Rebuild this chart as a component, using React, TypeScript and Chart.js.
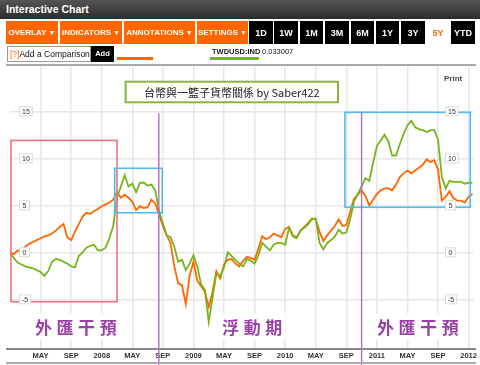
import React, { useEffect, useRef } from 'react';
import { Chart, registerables } from 'chart.js';

Chart.register(...registerables);

// ---- data (percent change since Jan 2007, sampled every half month) ----
const SAMPLE_STEP_MONTHS = 0.5;

const orangeValues = [
  0.0, -0.2, 0.2, 0.0, 0.6, 0.9, 1.1, 1.3, 1.5, 1.7,
  1.8, 2.0, 2.3, 2.7, 3.0, 1.6, 1.3, 2.2, 3.0, 3.8,
  4.2, 4.1, 4.4, 4.6, 4.9, 5.1, 5.3, 5.6, 6.4, 5.8,
  6.1, 5.8, 5.4, 4.5, 4.9, 4.7, 4.8, 5.6, 5.2, 4.0,
  2.8, 1.8, 1.0, -1.5, -3.3, -3.5, -5.5, -2.5, -1.0, -3.0,
  -3.6, -4.2, -5.8, -4.2, -2.0, -2.8, -1.3, -0.8, -0.7, -1.2,
  -1.5, -0.9, -0.5, -0.6, -0.8, 0.4, 1.7, 1.4, 1.6, 2.0,
  1.8, 1.6, 2.5, 2.7, 1.8, 1.6, 2.3, 2.7, 3.1, 3.6,
  3.5, 2.2, 1.2, 1.8, 2.3, 2.8, 3.5, 2.8, 2.9, 4.3,
  5.7, 6.1, 6.6, 6.0, 5.0, 5.6, 6.2, 6.6, 6.8, 6.8,
  6.6, 7.2, 8.0, 8.4, 8.7, 8.4, 8.7, 9.0, 9.3, 9.9,
  9.6, 9.8, 8.8, 5.5, 5.9, 6.5, 5.8, 5.5, 5.5, 5.3,
  5.9, 6.2,
];

const greenValues = [
  0.0, -0.6, -1.1, -1.3, -1.5, -1.6, -1.7, -1.9, -2.1, -2.5,
  -2.0, -1.0, -0.7, -0.8, -1.0, -1.2, -1.5, -1.6, -0.4, 0.0,
  0.5, 0.7, 0.8, 0.2, 0.2, 0.5, 1.5, 2.8, 5.8, 7.0,
  8.2, 7.0, 7.3, 6.4, 7.4, 7.4, 7.1, 7.2, 6.6, 4.4,
  3.1, 1.8, 1.6, 0.6, -1.0, -0.8, -1.9, -1.2, -0.3, -1.5,
  -3.4, -4.0, -7.4, -4.8, -2.3, -2.5, -1.6, 0.0, -0.4, -0.8,
  -1.2, -1.5, -0.7, -0.9, -1.2, -0.3, 1.0, 0.6, 0.2, 0.8,
  1.0, 1.0, 0.8, 2.6, 1.7, 1.5, 2.3, 2.6, 3.0, 3.5,
  3.6, 1.0, 0.3, 1.0, 1.3, 1.7, 2.4, 2.0, 2.1, 3.5,
  5.4, 6.2, 7.0, 7.9, 7.6, 9.5, 11.3, 11.9, 12.5, 11.8,
  10.3, 10.3, 11.5, 12.6, 13.5, 14.0, 13.3, 13.1, 13.0, 12.8,
  13.0, 13.0, 12.0, 8.0, 6.8, 7.6, 7.5, 7.5, 7.5, 7.3,
  7.4, 7.4,
];

const xTickMonths = [4, 8, 12, 16, 20, 24, 28, 32, 36, 40, 44, 48, 52, 56, 60];
const xTickLabels = ['MAY', 'SEP', '2008', 'MAY', 'SEP', '2009', 'MAY', 'SEP', '2010', 'MAY', 'SEP', '2011', 'MAY', 'SEP', '2012'];
const yTickValues = [15, 10, 5, 0, -5];
const yTickLabels = ['15', '10', '5', '0', '-5'];

const periodLabels = ['外匯干預', '浮動期', '外匯干預'];
const periodLabelStartMonths = [3.26, 27.74, 48.0];
const chartTitle = '台幣與一籃子貨幣關係 by Saber422';

// annotation geometry in data units (months, percent)
const annotationBoxes = [
  { x0: 0.13, x1: 14.0, y0: 11.9, y1: -5.26, color: '#f0737c' },
  { x0: 13.7, x1: 19.92, y0: 8.94, y1: 4.21, color: '#4fbdec' },
  { x0: 43.82, x1: 60.22, y0: 14.89, y1: 4.79, color: '#4fbdec' },
];
const annotationLines = [
  { x: 19.47, y: 14.8 },
  { x: 46.0, y: 14.9 },
];
const titleBox = { x0: 15.13, x1: 42.91, y0: 18.15, y1: 15.96 };

const ORANGE = '#ff6600';
const GREEN = '#76b51a';

const decorPlugin = {
  id: 'decor',
  afterDatasetsDraw(chart: any) {
    const ctx = chart.ctx as CanvasRenderingContext2D;
    const xs = chart.scales.x;
    const ys = chart.scales.y;
    const X = (v: number) => xs.getPixelForValue(v);
    const Y = (v: number) => ys.getPixelForValue(v);
    ctx.save();

    annotationBoxes.forEach((b) => {
      ctx.strokeStyle = b.color;
      ctx.lineWidth = 1.6;
      ctx.strokeRect(X(b.x0), Y(b.y0), X(b.x1) - X(b.x0), Y(b.y1) - Y(b.y0));
    });
    annotationLines.forEach((l) => {
      ctx.strokeStyle = '#b46cc4';
      ctx.lineWidth = 1.4;
      ctx.beginPath();
      ctx.moveTo(X(l.x), Y(l.y));
      ctx.lineTo(X(l.x), chart.height);
      ctx.stroke();
    });

    ctx.font = 'bold 17px "Noto Sans CJK TC", "Noto Sans CJK SC", sans-serif';
    ctx.textBaseline = 'middle';
    ctx.textAlign = 'left';
    const step = 21.6;
    const labelY = Y(-7.9);
    periodLabels.forEach((t, i) => {
      const x0 = X(periodLabelStartMonths[i]);
      const chars = Array.from(t);
      const w = (chars.length - 1) * step + 17;
      ctx.fillStyle = '#ffffff';
      ctx.fillRect(x0 - 3, labelY - 13, w + 6, 26);
      ctx.fillStyle = '#9a40a8';
      chars.forEach((c, k) => ctx.fillText(c, x0 + k * step, labelY + 1));
    });

    const tx0 = X(titleBox.x0), tx1 = X(titleBox.x1), ty0 = Y(titleBox.y0), ty1 = Y(titleBox.y1);
    ctx.fillStyle = '#ffffff';
    ctx.fillRect(tx0, ty0, tx1 - tx0, ty1 - ty0);
    ctx.strokeStyle = '#8db33e';
    ctx.lineWidth = 2;
    ctx.strokeRect(tx0, ty0, tx1 - tx0, ty1 - ty0);
    ctx.fillStyle = '#222';
    ctx.font = '11px "Noto Sans CJK TC", sans-serif';
    ctx.textAlign = 'center';
    ctx.fillText(chartTitle, (tx0 + tx1) / 2, (ty0 + ty1) / 2 + 1);

    ctx.font = '7px Arial, "Liberation Sans", sans-serif';
    ctx.textAlign = 'center';
    yTickValues.forEach((v, i) => {
      const y = Y(v);
      const label = yTickLabels[i];
      const w = Math.max(10, ctx.measureText(label).width + 5);
      [19, 445].forEach((lx) => {
        ctx.fillStyle = '#ffffff';
        ctx.fillRect(lx, y - 4.5, w, 9);
        ctx.strokeStyle = '#dcdcdc';
        ctx.lineWidth = 1;
        ctx.strokeRect(lx + 0.5, y - 4.5, w, 9);
        ctx.fillStyle = '#333';
        ctx.fillText(label, lx + w / 2 + 0.5, y + 0.5);
      });
    });

    ctx.font = 'bold 8px Arial, "Liberation Sans", sans-serif';
    ctx.fillStyle = '#444';
    ctx.textAlign = 'left';
    ctx.fillText('Print', 444, 79);

    ctx.fillStyle = '#a9a9a9';
    ctx.fillRect(6, 64, 470, 2);
    ctx.fillStyle = '#888';
    ctx.fillRect(6, 348, 470, 2);
    ctx.fillStyle = '#aaa';
    ctx.fillRect(6, 362, 470, 2);
    ctx.restore();
  },
};

const orangeBtns = [
  { label: 'OVERLAY', l: 6, r: 58 },
  { label: 'INDICATORS', l: 60, r: 122 },
  { label: 'ANNOTATIONS', l: 124, r: 195 },
  { label: 'SETTINGS', l: 197, r: 248 },
];
const rangeBtns = [
  { label: '1D', l: 249, r: 273 },
  { label: '1W', l: 274, r: 298 },
  { label: '1M', l: 300, r: 323 },
  { label: '3M', l: 325, r: 349 },
  { label: '6M', l: 351, r: 374 },
  { label: '1Y', l: 376, r: 399 },
  { label: '3Y', l: 401, r: 425 },
  { label: 'YTD', l: 451, r: 475 },
];

export default function App() {
  const ref = useRef<HTMLCanvasElement>(null);
  useEffect(() => {
    const toPoints = (vals: number[]) => vals.map((v, i) => ({ x: i * SAMPLE_STEP_MONTHS, y: v }));
    const chart = new Chart(ref.current as HTMLCanvasElement, {
      type: 'line',
      data: {
        datasets: [
          { label: 'Basket', data: toPoints(orangeValues), borderColor: ORANGE, borderWidth: 1.8, pointRadius: 0, tension: 0, order: 2 },
          { label: 'TWDUSD:IND', data: toPoints(greenValues), borderColor: GREEN, borderWidth: 1.8, pointRadius: 0, tension: 0, order: 1 },
        ],
      },
      options: {
        animation: false,
        responsive: false,
        devicePixelRatio: 1,
        layout: { padding: { left: 10, right: 5, top: 66, bottom: 2 } },
        plugins: { legend: { display: false }, tooltip: { enabled: false }, title: { display: false } },
        scales: {
          x: {
            type: 'linear',
            min: 0,
            max: 60.65,
            afterBuildTicks: (s: any) => { s.ticks = xTickMonths.map((v) => ({ value: v })); },
            afterFit: (s: any) => { s.height = 15; },
            ticks: {
              autoSkip: false,
              maxRotation: 0,
              padding: 3,
              color: '#333',
              font: { family: 'Arial, "Liberation Sans", sans-serif', size: 7.5, weight: 'bold' },
              callback: (v: any) => { const k = xTickMonths.indexOf(Number(v)); return k >= 0 ? xTickLabels[k] : ''; },
            },
            grid: { color: '#e6e6e6', lineWidth: 1.5, drawTicks: false },
            border: { display: false },
          },
          y: {
            min: -10.18,
            max: 19.82,
            afterBuildTicks: (s: any) => { s.ticks = yTickValues.map((v) => ({ value: v })); },
            afterFit: (s: any) => { s.width = 0; },
            ticks: { display: false },
            grid: { color: '#e6e6e6', lineWidth: 1.5, drawTicks: false },
            border: { display: false },
          },
        },
      } as any,
      plugins: [decorPlugin],
    });
    return () => chart.destroy();
  }, []);

  const btnBase: React.CSSProperties = {
    position: 'absolute', top: 21, height: 23, display: 'flex', alignItems: 'center', justifyContent: 'center',
    fontWeight: 'bold', color: '#fff', whiteSpace: 'nowrap', boxSizing: 'border-box',
  };

  return (
    <div style={{ position: 'fixed', left: 0, top: 0, width: 480, height: 365, background: '#fff', overflow: 'hidden', fontFamily: 'Arial, "Liberation Sans", Helvetica, sans-serif' }}>
      <canvas ref={ref} width={480} height={365} style={{ position: 'absolute', left: 0, top: 0 }} />
      <div style={{ position: 'absolute', left: 0, top: 0, width: 480, height: 19, background: 'linear-gradient(#555, #2c2c2c)', color: '#fff', fontWeight: 'bold', fontSize: 10.5, lineHeight: '19px', paddingLeft: 6, boxSizing: 'border-box' }}>
        Interactive Chart
      </div>
      {orangeBtns.map((b) => (
        <div key={b.label} style={{ ...btnBase, left: b.l, width: b.r - b.l, background: ORANGE, fontSize: 8 }}>
          {b.label}<span style={{ fontSize: 7, marginLeft: 2 }}>▼</span>
        </div>
      ))}
      {rangeBtns.map((b) => (
        <div key={b.label} style={{ ...btnBase, left: b.l, width: b.r - b.l, background: '#000', fontSize: 9 }}>
          {b.label}
        </div>
      ))}
      <div style={{ ...btnBase, left: 427, width: 22, color: ORANGE, fontSize: 9 }}>5Y</div>

      <div style={{ position: 'absolute', left: 7, top: 46, width: 84, height: 16, border: '1px solid #9a9a9a', boxSizing: 'border-box', fontSize: 8.5, lineHeight: '14px', paddingLeft: 2, whiteSpace: 'nowrap', color: '#111' }}>
        <span style={{ color: ORANGE }}>[?]</span>Add a Comparison
      </div>
      <div style={{ position: 'absolute', left: 91, top: 46, width: 23, height: 16, background: '#000', color: '#fff', fontWeight: 'bold', fontSize: 7.5, lineHeight: '16px', textAlign: 'center' }}>Add</div>
      <div style={{ position: 'absolute', left: 117, top: 57, width: 36, height: 3, background: ORANGE }} />
      <div style={{ position: 'absolute', left: 212, top: 47, fontSize: 7.5, fontWeight: 'bold', color: '#222', whiteSpace: 'nowrap' }}>TWDUSD:IND</div>
      <div style={{ position: 'absolute', left: 262, top: 47, fontSize: 7.5, color: '#222', whiteSpace: 'nowrap' }}>0.033007</div>
      <div style={{ position: 'absolute', left: 210, top: 57, width: 49, height: 3, background: GREEN }} />
    </div>
  );
}
